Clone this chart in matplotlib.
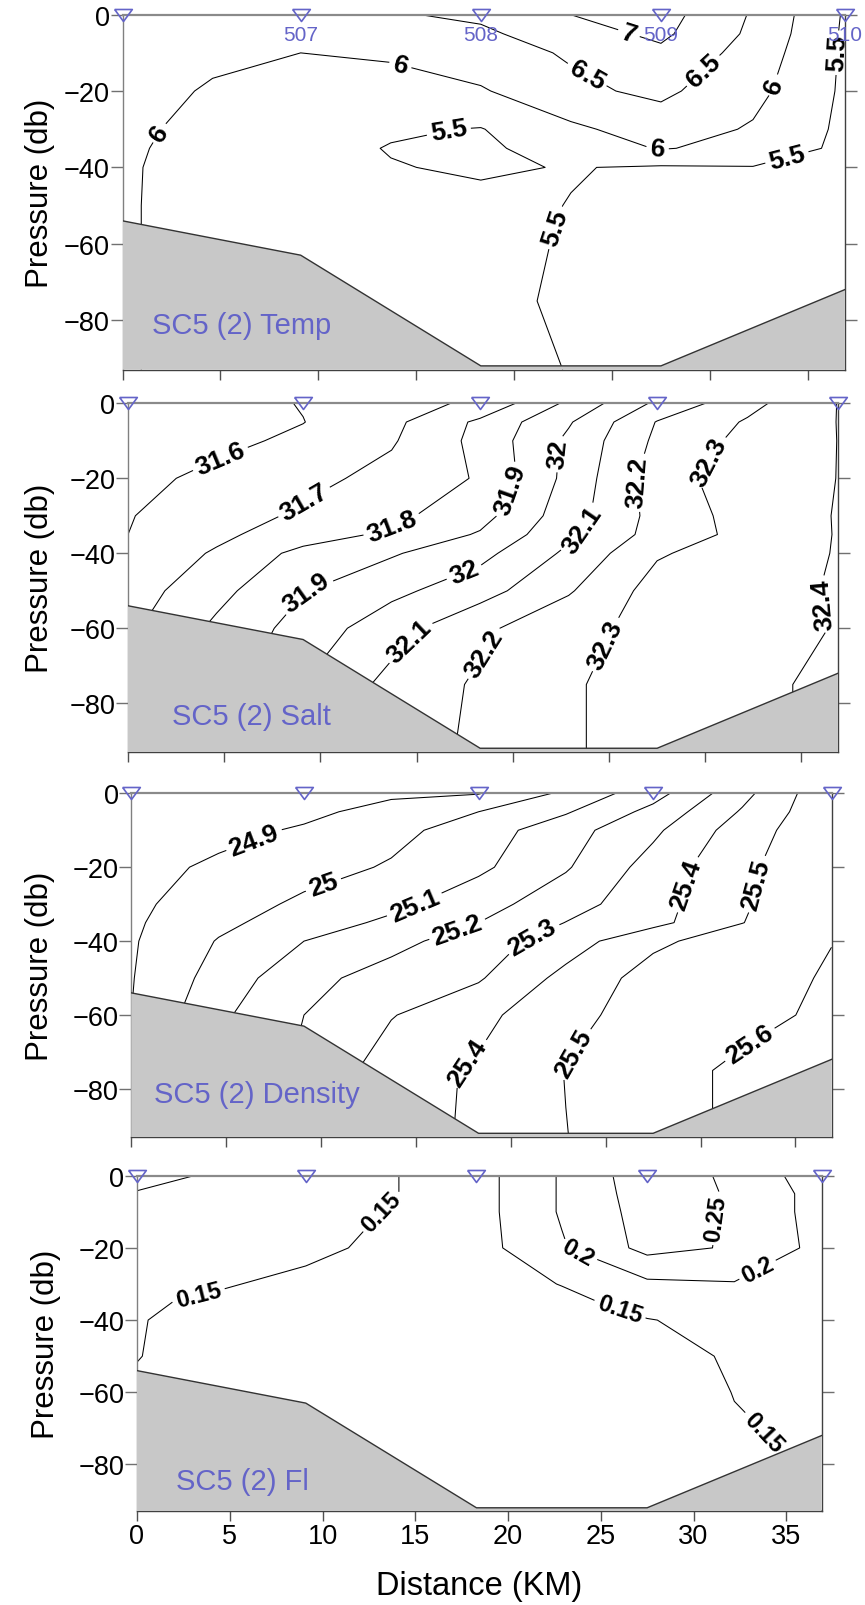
import numpy as np
import matplotlib
matplotlib.use("Agg")
import matplotlib.pyplot as plt

plt.rcParams['font.family'] = ['Liberation Sans', 'DejaVu Sans']

# CTD stations on line SC5 (2nd occupation)
station_km = [0.0, 9.1, 18.3, 27.5, 36.9]
station_id = ["", "507", "508", "509", "510"]
bottom_db = [54, 63, 92, 92, 72]

# gridded section: one profile per grid distance, values at grid_db
grid_km = [0.0, 4.6, 9.1, 13.7, 18.3, 22.9, 27.5, 32.2, 36.9]
grid_db = [0, 5, 10, 20, 30, 35, 40, 50, 60, 75, 93]

temp = [
    [6.30, 6.30, 6.25, 6.20, 6.15, 6.12, 6.10, 6.10, 6.10, 6.10, 6.10],
    [6.25, 6.20, 6.10, 5.95, 5.80, 5.72, 5.66, 5.62, 5.62, 5.62, 5.62],
    [6.30, 6.15, 6.00, 5.85, 5.70, 5.65, 5.62, 5.60, 5.60, 5.60, 5.60],
    [6.45, 6.25, 6.05, 5.85, 5.55, 5.48, 5.52, 5.60, 5.60, 5.60, 5.60],
    [6.60, 6.40, 6.30, 5.95, 5.48, 5.40, 5.45, 5.60, 5.60, 5.60, 5.60],
    [7.00, 6.80, 6.55, 6.40, 5.90, 5.75, 5.52, 5.49, 5.47, 5.44, 5.49],
    [7.20, 7.10, 6.90, 6.60, 6.25, 6.03, 5.45, 5.35, 5.30, 5.30, 5.30],
    [6.45, 6.40, 6.30, 6.15, 5.95, 5.85, 5.48, 5.35, 5.30, 5.30, 5.30],
    [5.45, 5.43, 5.43, 5.42, 5.40, 5.38, 5.35, 5.30, 5.30, 5.30, 5.30],
]

salt = [
    [31.52, 31.53, 31.54, 31.57, 31.595, 31.60, 31.63, 31.65, 31.68, 31.70, 31.70],
    [31.56, 31.57, 31.575, 31.625, 31.655, 31.68, 31.71, 31.77, 31.82, 31.85, 31.85],
    [31.605, 31.598, 31.62, 31.672, 31.716, 31.75, 31.83, 31.895, 31.94, 32.00, 32.00],
    [31.66, 31.676, 31.69, 31.73, 31.776, 31.82, 31.89, 31.975, 32.06, 32.13, 32.15],
    [31.72, 31.82, 31.83, 31.81, 31.864, 31.91, 31.97, 32.06, 32.18, 32.215, 32.22],
    [31.92, 31.99, 32.02, 32.03, 32.055, 32.08, 32.12, 32.19, 32.27, 32.29, 32.29],
    [32.12, 32.205, 32.22, 32.25, 32.235, 32.24, 32.29, 32.34, 32.33, 32.34, 32.34],
    [32.27, 32.31, 32.33, 32.36, 32.34, 32.33, 32.35, 32.36, 32.36, 32.38, 32.38],
    [32.402, 32.402, 32.401, 32.401, 32.405, 32.405, 32.405, 32.41, 32.405, 32.42, 32.42],
]

dens = [
    [24.85, 24.86, 24.865, 24.87, 24.88, 24.885, 24.89, 24.895, 24.90, 24.90, 24.90],
    [24.86, 24.87, 24.875, 24.915, 24.95, 24.977, 25.006, 25.04, 25.08, 25.10, 25.10],
    [24.87, 24.88, 24.91, 24.96, 25.02, 25.05, 25.10, 25.17, 25.20, 25.22, 25.22],
    [24.885, 24.93, 24.97, 25.01, 25.075, 25.12, 25.17, 25.24, 25.295, 25.35, 25.35],
    [24.895, 25.00, 25.05, 25.08, 25.16, 25.20, 25.25, 25.29, 25.37, 25.415, 25.42],
    [25.02, 25.09, 25.16, 25.19, 25.26, 25.302, 25.35, 25.43, 25.48, 25.5025, 25.498],
    [25.16, 25.23, 25.28, 25.34, 25.36, 25.37, 25.48, 25.54, 25.53, 25.56, 25.56],
    [25.37, 25.41, 25.45, 25.48, 25.49, 25.498, 25.55, 25.56, 25.57, 25.62, 25.62],
    [25.58, 25.58, 25.58, 25.58, 25.58, 25.585, 25.598, 25.61, 25.62, 25.63, 25.63],
]

fluor = [
    [0.21, 0.198, 0.19, 0.18, 0.165, 0.155, 0.153, 0.152, 0.14, 0.13, 0.13],
    [0.195, 0.185, 0.18, 0.17, 0.153, 0.143, 0.13, 0.12, 0.12, 0.12, 0.12],
    [0.17, 0.17, 0.165, 0.16, 0.14, 0.135, 0.125, 0.12, 0.12, 0.12, 0.12],
    [0.152, 0.152, 0.148, 0.14, 0.13, 0.125, 0.12, 0.115, 0.115, 0.115, 0.115],
    [0.13, 0.13, 0.13, 0.13, 0.12, 0.12, 0.12, 0.115, 0.115, 0.115, 0.115],
    [0.205, 0.205, 0.205, 0.195, 0.152, 0.135, 0.125, 0.12, 0.12, 0.12, 0.12],
    [0.28, 0.275, 0.27, 0.265, 0.19, 0.17, 0.148, 0.13, 0.125, 0.125, 0.12],
    [0.24, 0.245, 0.245, 0.245, 0.197, 0.18, 0.165, 0.156, 0.151, 0.145, 0.14],
    [0.17, 0.18, 0.18, 0.185, 0.175, 0.17, 0.165, 0.16, 0.158, 0.155, 0.15],
]

temp_levels = [5.5, 6.0, 6.5, 7.0]
salt_levels = [31.6, 31.7, 31.8, 31.9, 32.0, 32.1, 32.2, 32.3, 32.4]
dens_levels = [24.9, 25.0, 25.1, 25.2, 25.3, 25.4, 25.5, 25.6]
fluor_levels = [0.15, 0.2, 0.25]

names = ["SC5 (2) Temp", "SC5 (2) Salt", "SC5 (2) Density", "SC5 (2) Fl"]

# where the contour labels sit (km, -db)
temp_labels = [(25.8, -5.9), (23.6, -16.9), (29.9, -16), (14.2, -13), (2.4, -32.6),
               (27.3, -36.3), (33.1, -18.2), (16.7, -31.3), (22.8, -57), (34, -38.7),
               (36.2, -9.9)]
salt_labels = [(4.7, -13.5), (9.3, -27.7), (13.7, -32.6), (9.1, -49.5), (19.95, -23.3),
               (17.5, -45.5), (22.5, -13.5), (14.6, -63.3), (23.4, -33.1), (18.8, -67.7),
               (26.4, -21.1), (24.4, -63.3), (29.7, -14), (36.2, -53.5)]
dens_labels = [(6.45, -12.4), (10.2, -25.9), (14.9, -29.9), (17.2, -37.2), (21.3, -40.8),
               (29.2, -24.5), (17.3, -70.5), (32.9, -24.5), (23.1, -69.6), (32.9, -70.5)]
fluor_labels = [(13.2, -10.1), (3.3, -32.8), (25.8, -40.6), (33.6, -72), (23.6, -23.5),
                (33.8, -29.5), (31.6, -12)]

W, H = 865, 1606
fig = plt.figure(figsize=(W / 100, H / 100), dpi=100)
blue = '#6464c8'

# axes boxes in pixels: left, right, top, bottom
boxes = [(122.5, 845, 15.7, 370.7), (128, 838, 404.3, 753),
         (131.3, 831.5, 794.3, 1138), (137, 821.5, 1176.7, 1512.4)]
ylab_right = [55, 55, 55, 61]
name_pos = [(1.5, -81.3), (2.3, -83.3), (1.2, -81.5), (2.1, -84.7)]
lab_size = [19, 19, 19, 17]

fields = [temp, salt, dens, fluor]
levels_all = [temp_levels, salt_levels, dens_levels, fluor_levels]
labels_all = [temp_labels, salt_labels, dens_labels, fluor_labels]

X, Y = np.meshgrid(grid_km, -np.array(grid_db))
tri = [(-1, 0.68), (1, 0.68), (0, -0.68), (-1, 0.68)]

for i in range(4):
    l, r, t, b = boxes[i]
    ax = fig.add_axes([l / W, 1 - b / H, (r - l) / W, (b - t) / H])
    ax.set_xlim(0, 36.9)
    ax.set_ylim(-93, 0)

    Z = np.array(fields[i]).T
    cs = ax.contour(X, Y, Z, levels=levels_all[i], colors='black', linewidths=0.75, zorder=2)
    with plt.rc_context({'font.weight': 'bold'}):
        txt = ax.clabel(cs, fmt='%g', fontsize=lab_size[i], inline=True,
                        inline_spacing=4, manual=labels_all[i])
    for tx in txt:
        tx.set_zorder(6)
        # near-vertical labels read upwards, as in the original
        rot = tx.get_rotation() % 360
        if 240 < rot < 300:
            tx.set_rotation(rot - 180)

    # sea floor
    ax.fill_between(station_km, -np.array(bottom_db), -93, facecolor='#c8c8c8',
                    linewidth=0, zorder=3)
    ax.plot(station_km, -np.array(bottom_db), color='#333333', lw=1, zorder=4)

    # station markers
    ax.plot(station_km, np.zeros(len(station_km)), ls='none', marker=tri, ms=12.7,
            mfc='none', mec=blue, mew=1.2, clip_on=False, zorder=7)
    if i == 0:
        for sx, sid in zip(station_km, station_id):
            ax.text(sx, -5.2, sid, ha='center', va='center', fontsize=15, color=blue, zorder=7)

    ax.text(name_pos[i][0], name_pos[i][1], names[i], color=blue, fontsize=21,
            ha='left', va='center', zorder=8)

    ax.set_xticks(range(0, 40, 5))
    ax.set_yticks([-80, -60, -40, -20, 0])
    ax.tick_params(axis='y', direction='out', length=8.6, width=1, color='#707070',
                   labelsize=19.5, pad=0.5, right=True)
    ax.tick_params(axis='x', direction='out', length=7.2, width=1, color='#505050',
                   labelsize=19.5, pad=1, labelbottom=(i == 3))
    for side in ['left', 'right', 'bottom']:
        ax.spines[side].set_linewidth(1)
    ax.spines['left'].set_color('#808080')
    ax.spines['right'].set_color('#404040')
    ax.spines['bottom'].set_color('#404040')
    ax.spines['top'].set_color('#8a8a8a')
    ax.spines['top'].set_linewidth(1.6)

    ax.set_ylabel('Pressure (db)', fontsize=22.5)
    ax.yaxis.set_label_coords((ylab_right[i] - l) / (r - l), 0.5)
    if i == 3:
        ax.set_xlabel('Distance (KM)', fontsize=23.5)
        ax.xaxis.set_label_coords(0.5, (b - 1571) / (b - t))

fig.savefig('out.png', dpi=100)
